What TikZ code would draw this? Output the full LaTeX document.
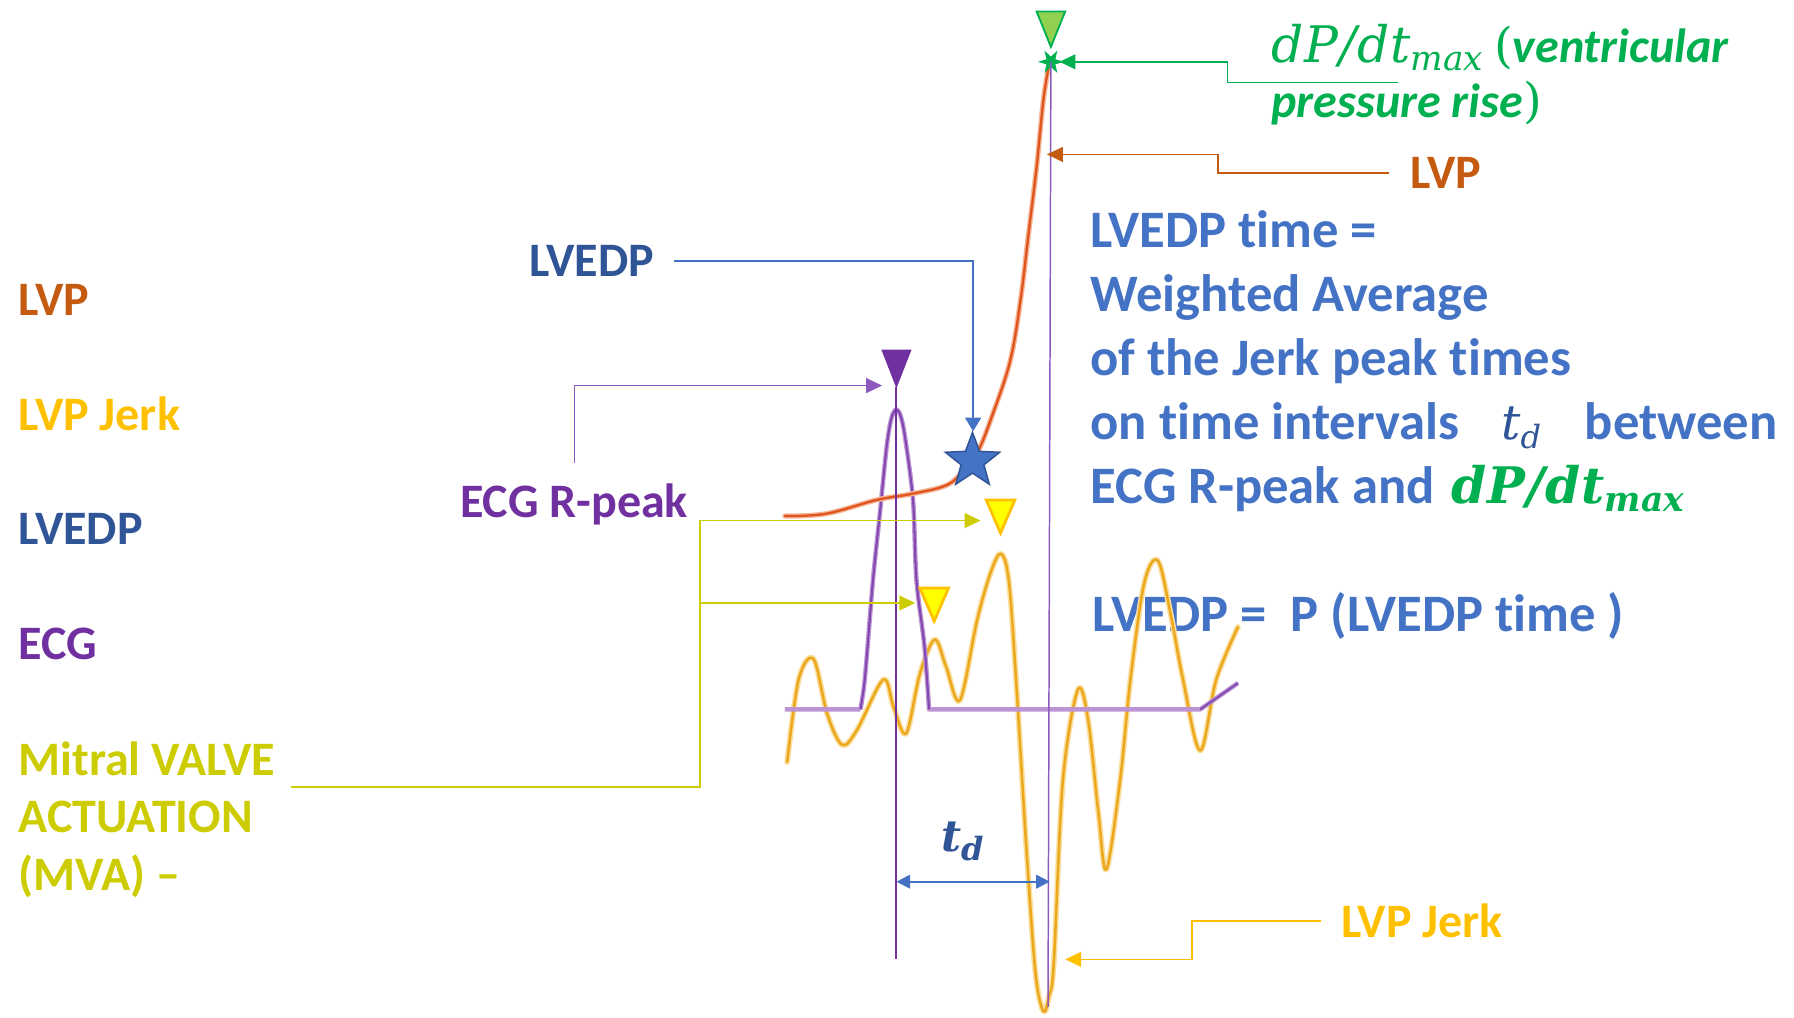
\documentclass[tikz,border=0pt]{standalone}
\usepackage{fontspec}
\setmainfont{Carlito}[Ligatures=NoCommon]
\newfontfamily\mserif{DejaVu Serif}
\usetikzlibrary{arrows.meta,shapes.geometric}
\definecolor{clvp}{RGB}{197,90,17}
\definecolor{clvpc}{RGB}{222,84,28}
\definecolor{clvph}{RGB}{244,180,150}
\definecolor{cjerk}{RGB}{255,192,0}
\definecolor{cjerkc}{RGB}{236,168,28}
\definecolor{cjerkh}{RGB}{250,222,160}
\definecolor{clvedp}{RGB}{47,85,151}
\definecolor{cblue}{RGB}{68,114,196}
\definecolor{cecg}{RGB}{112,48,160}
\definecolor{cecgc}{RGB}{130,70,175}
\definecolor{cecgh}{RGB}{188,148,212}
\definecolor{cecgl}{RGB}{140,90,190}
\definecolor{cmva}{RGB}{204,204,0}
\definecolor{cgrn}{RGB}{0,176,80}
\definecolor{clgrn}{RGB}{146,208,80}
\definecolor{cyel}{RGB}{255,255,0}
\newcommand{\txtsize}{\fontsize{42}{50}\selectfont}
\newcommand{\bigsize}{\fontsize{46}{56}\selectfont}
\newcommand{\dPdt}{{\mserif\itshape d\kern1pt P\kern1pt/\kern1pt d\kern0.5pt t}\raisebox{-7pt}{\fontsize{30}{30}\selectfont\mserif\itshape max}}
\newcommand{\tdsym}{{\mserif\itshape t}\raisebox{-8pt}{\fontsize{28}{28}\selectfont\mserif\itshape d}}
\tikzset{
  lab/.style={font=\txtsize\bfseries, inner sep=0pt, anchor=base west},
  blab/.style={font=\bigsize\bfseries, inner sep=0pt, anchor=base west, text=cblue},
  conn/.style={line width=1.3pt},
  tipa/.style={-{Triangle[length=14pt,width=13pt]}},
  tri/.style={line width=2.4pt, line join=miter},
}
\begin{document}
\begin{tikzpicture}[x=1pt,y=-1pt]
\useasboundingbox (0,0) rectangle (1568,889);

% ---------- left legend ----------
\node[lab, text=clvp] (lLVP) at (16,276) {LVP};
\node[lab, text=cjerk] (lJerk) at (16,376) {LVP Jerk};
\node[lab, text=clvedp] (lLVEDP) at (16,476) {LVEDP};
\node[lab, text=cecg] (lECG) at (16,576) {ECG};
\node[lab, text=cmva] (lMVA1) at (16,678) {Mitral VALVE};
\node[lab, text=cmva] (lMVA2) at (16,728) {ACTUATION};
\node[lab, text=cmva] (lMVA3) at (16,778) {(MVA) –};

% ---------- right text block ----------
\node[blab] (r1) at (953,216) {LVEDP time =};
\node[blab] (r2) at (953,272) {Weighted Average};
\node[blab] (r3) at (953,328) {of the Jerk peak times};
\node[blab] (r4) at (953,384) {on time intervals};
\node[lab, text=clvedp, font=\txtsize\mdseries] (r4td) at (1312,384) {\tdsym};
\node[blab] (r4b) at (1385,384) {between};
\node[blab] (r5) at (953,440) {ECG R-peak and};
\node[lab, text=cgrn, font=\fontsize{44}{50}\selectfont\bfseries] (r5d) at (1268,440) {\dPdt};
\node[blab] (r6) at (955,552) {LVEDP =\ \ P (LVEDP time )};

% ---------- top right labels ----------
\node[lab, text=cgrn] (gT1) at (1111,55) {{\fontsize{44}{50}\selectfont\mdseries\dPdt}\ {\mdseries\mserif(}\textit{ventricular}};
\node[lab, text=cgrn] (gT2) at (1111,103) {\textit{pressure rise}{\mdseries\mserif)}};
\node[lab, text=clvp] (oT) at (1233,164.5) {LVP};
\node[lab, text=clvedp] (bT) at (463,242) {LVEDP};
\node[lab, text=cecg] (pT) at (402,452) {ECG R-peak};
\node[lab, text=cjerk] (jT) at (1172,819) {LVP Jerk};
\node[lab, text=clvedp, font=\fontsize{38}{40}\selectfont\bfseries] (tdT) at (823,744) {\tdsym};

% ---------- waveforms ----------
% LVP Jerk
\draw[cjerkh, line width=5pt, line cap=round, line join=round]
  plot[smooth, tension=0.55] coordinates {(688,666) (698,594) (711,576) (723,624) (736,651) (749,638) (772,594) (781,618) (792,641) (804,589) (817,559) (827,583) (839,612) (854,542) (866,500) (875,484) (882,510) (889,609) (897,740) (905,850) (912,884) (917,870) (921,842) (929,682) (942,603) (951,629) (960,710) (967,760) (979,682) (988,594) (1000,510) (1012,490) (1023,536) (1034,594) (1049,656) (1063,594) (1082,548)};
\draw[cjerkc, line width=2.2pt, line cap=round, line join=round]
  plot[smooth, tension=0.55] coordinates {(688,666) (698,594) (711,576) (723,624) (736,651) (749,638) (772,594) (781,618) (792,641) (804,589) (817,559) (827,583) (839,612) (854,542) (866,500) (875,484) (882,510) (889,609) (897,740) (905,850) (912,884) (917,870) (921,842) (929,682) (942,603) (951,629) (960,710) (967,760) (979,682) (988,594) (1000,510) (1012,490) (1023,536) (1034,594) (1049,656) (1063,594) (1082,548)};
% ECG
\draw[cecgh, line width=4pt, line join=round]
  (686,620) -- (752,620)
  plot[smooth, tension=0.5] coordinates {(752,620) (756,592) (763,507) (769,449) (775,390) (779,366) (783,358) (787,363) (791,382) (798,437) (801,507) (808,565) (812,620)}
  -- (1049,620) -- (1082,597);
\draw[cecgc, line width=1.8pt, line join=round]
  plot[smooth, tension=0.5] coordinates {(752,620) (756,592) (763,507) (769,449) (775,390) (779,366) (783,358) (787,363) (791,382) (798,437) (801,507) (808,565) (812,620)};
\draw[cecgc, line width=1.6pt] (1049,620) -- (1082,597);
% LVP
\draw[clvph, line width=4.5pt, line cap=round]
  plot[smooth, tension=0.6] coordinates {(686,451) (722,449) (766,437) (795,432) (825,425) (839,415) (854,396) (868,361) (883,315) (892,262) (899,204) (906,146) (912,87) (917,56)};
\draw[clvpc, line width=2pt, line cap=round]
  plot[smooth, tension=0.6] coordinates {(686,451) (722,449) (766,437) (795,432) (825,425) (839,415) (854,396) (868,361) (883,315) (892,262) (899,204) (906,146) (912,87) (917,56)};

% ---------- vertical markers ----------
\node[star, star points=6, star point ratio=0.4, minimum size=9pt, inner sep=0pt, fill=cgrn] (gstar) at (918.5,54) {};
\coordinate (thinBot) at (916,880);
\draw[cecgl, line width=1.3pt] (gstar.center) -- (thinBot);
\coordinate (rTop) at (783,338);
\coordinate (rBot) at (783,838);
\draw[cecg, line width=2.2pt] (rTop) -- (rBot);

% triangles
\draw[line width=1.6pt, draw=cgrn, fill=clgrn] (906,10) -- (931,10) -- (918.5,41) -- cycle;
\draw[line width=1pt, draw=cecg, fill=cecg] (771,306) -- (796,306) -- (783.5,338) -- cycle;
\draw[tri, draw=cjerk, fill=cyel] (862,437) -- (887,437) -- (874.5,466) -- cycle;
\draw[tri, draw=cjerk, fill=cyel] (804,514) -- (829,514) -- (816.5,543) -- cycle;

% blue star
\coordinate (bstar) at (850,403);
\draw[fill=cblue, draw=clvedp, line width=1.3pt, line join=miter, shift={(850,403)}]
  (-90:25) -- (-54:10.5) -- (-18:25) -- (18:10.5) -- (54:25) -- (90:10.5) -- (126:25) -- (162:10.5) -- (198:25) -- (234:10.5) -- cycle;
\coordinate (bstarTop) at (850.5,377);

% ---------- connectors ----------
\coordinate (gA) at (1222,72);
\coordinate (gB) at (926,54);
\draw[conn, cgrn, tipa] (gA) -- (1073,72) -- (1073,54) -- (gB);

\coordinate (oA) at (1214,151);
\coordinate (oB) at (915,135);
\draw[conn, clvp, tipa] (oA) -- (1064.5,151) -- (1064.5,135) -- (oB);

\coordinate (bA) at (589,228);
\draw[conn, cblue, -{Triangle[length=12pt,width=14pt]}] (bA) -- (850.5,228) -- (bstarTop);

\coordinate (pA) at (502,405);
\coordinate (pB) at (771,337);
\draw[conn, cecgl, tipa] (pA) -- (502,337) -- (pB);

\coordinate (mA) at (254,688);
\coordinate (mB) at (857,455);
\coordinate (mC) at (800,527);
\draw[conn, cmva, tipa] (mA) -- (612,688) -- (612,455) -- (mB);
\draw[conn, cmva, tipa] (612,527) -- (mC);

\coordinate (jA) at (1155,805);
\coordinate (jB) at (931,838.5);
\draw[conn, cjerk, tipa] (jA) -- (1042,805) -- (1042,838.5) -- (jB);

% t_d interval
\coordinate (tdL) at (783.5,770.6);
\coordinate (tdR) at (917.5,770.6);
\draw[cblue, line width=1.8pt, {Triangle[length=12pt,width=12pt]}-{Triangle[length=12pt,width=12pt]}] (tdL) -- (tdR);
\end{tikzpicture}
\end{document}
